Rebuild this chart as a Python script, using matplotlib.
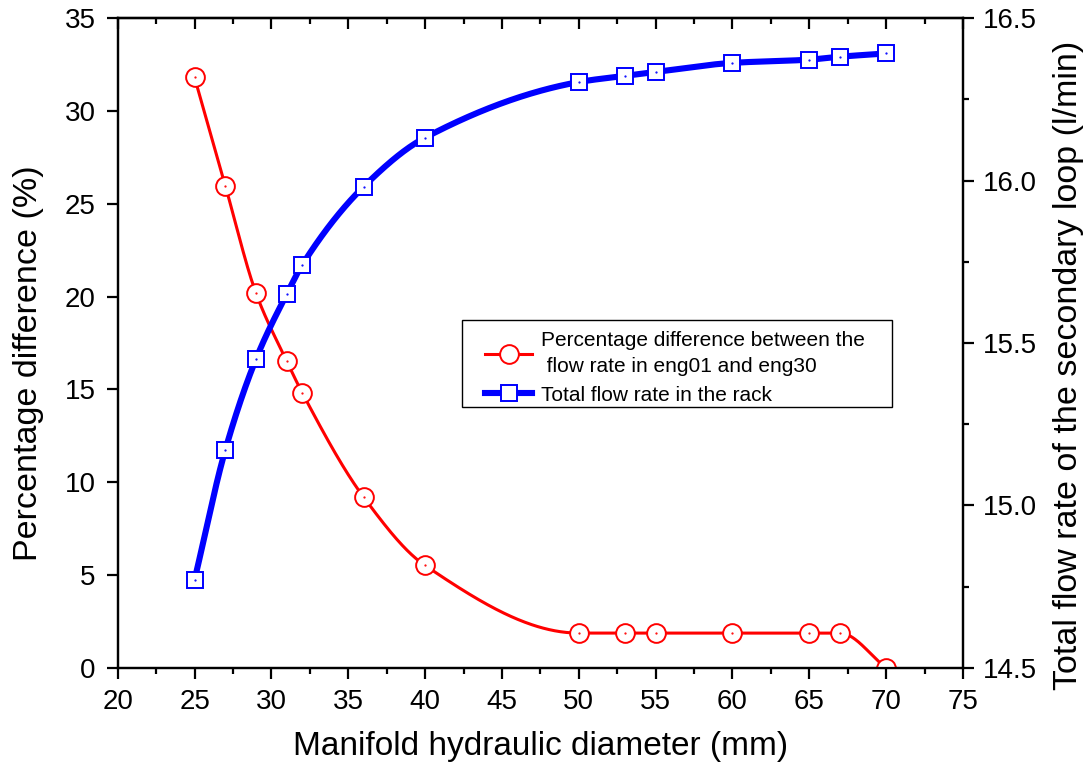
import numpy as np
import matplotlib
matplotlib.use('Agg')
import matplotlib.pyplot as plt
from matplotlib.patches import Rectangle
from matplotlib.ticker import MultipleLocator, FormatStrFormatter

plt.rcParams['font.family'] = ['Liberation Sans', 'DejaVu Sans']

# --- data ---
diameter = [25, 27, 29, 31, 32, 36, 40, 50, 53, 55, 60, 65, 67, 70]
pct_diff = [31.8, 25.97, 20.18, 16.52, 14.83, 9.2, 5.52, 1.88, 1.88, 1.88, 1.88, 1.88, 1.88, 0.0]
total_flow = [14.771, 15.171, 15.451, 15.651, 15.740, 15.981, 16.132, 16.303,
              16.322, 16.334, 16.362, 16.372, 16.381, 16.391]


def pchip(x, y, xs):
    # monotone cubic (Fritsch-Carlson) for the smooth connecting lines
    x = np.asarray(x, float)
    y = np.asarray(y, float)
    h = np.diff(x)
    d = np.diff(y) / h
    m = np.zeros_like(y)
    for k in range(1, len(x) - 1):
        if d[k - 1] * d[k] > 0:
            w1 = 2 * h[k] + h[k - 1]
            w2 = h[k] + 2 * h[k - 1]
            m[k] = (w1 + w2) / (w1 / d[k - 1] + w2 / d[k])
    m[0] = d[0]
    m[-1] = d[-1]
    idx = np.clip(np.searchsorted(x, xs) - 1, 0, len(x) - 2)
    t = (xs - x[idx]) / h[idx]
    h00 = 2 * t**3 - 3 * t**2 + 1
    h10 = t**3 - 2 * t**2 + t
    h01 = -2 * t**3 + 3 * t**2
    h11 = t**3 - t**2
    return h00 * y[idx] + h10 * h[idx] * m[idx] + h01 * y[idx + 1] + h11 * h[idx] * m[idx + 1]


xs = np.linspace(diameter[0], diameter[-1], 600)

fig = plt.figure(figsize=(10.9, 7.8), dpi=100)
ax = fig.add_axes([0.108, 0.1436, 0.7755, 0.8333])
ax2 = ax.twinx()

# red series on left axis
ax.plot(xs, pchip(diameter, pct_diff, xs), color='red', lw=2.2, zorder=2)
ax.plot(diameter, pct_diff, ls='none', marker='o', ms=13.5, mfc='white',
        mec='red', mew=1.4, zorder=3)
ax.plot(diameter, pct_diff, ls='none', marker='.', ms=1.2, color='red', zorder=4)

# blue series on right axis
ax2.plot(xs, pchip(diameter, total_flow, xs), color='blue', lw=4.4, zorder=2)
ax2.plot(diameter, total_flow, ls='none', marker='s', ms=12, mfc='white',
         mec='blue', mew=1.4, zorder=3)
ax2.plot(diameter, total_flow, ls='none', marker='.', ms=1.2, color='blue', zorder=4)

ax.set_xlim(20, 75)
ax.set_ylim(0, 35)
ax2.set_ylim(14.5, 16.5)

ax.xaxis.set_major_locator(MultipleLocator(5))
ax.xaxis.set_minor_locator(MultipleLocator(2.5))
ax.yaxis.set_major_locator(MultipleLocator(5))
ax2.yaxis.set_major_locator(MultipleLocator(0.5))
ax2.yaxis.set_minor_locator(MultipleLocator(0.25))
ax2.yaxis.set_major_formatter(FormatStrFormatter('%.1f'))

for a in (ax, ax2):
    for s in a.spines.values():
        s.set_linewidth(1.6)

ax.tick_params(axis='x', which='major', direction='out', length=8, width=1.6,
               labelsize=20, pad=7)
ax.tick_params(axis='x', which='minor', direction='out', length=4.5, width=1.6)
ax.tick_params(axis='y', which='major', direction='out', length=8, width=1.6,
               labelsize=20, pad=8)
ax2.tick_params(axis='y', which='major', direction='out', length=8, width=1.6,
                labelsize=20, pad=6)
ax2.tick_params(axis='y', which='minor', direction='out', length=4.5, width=1.6)

# top ticks point inward
sec = ax.secondary_xaxis('top')
sec.xaxis.set_major_locator(MultipleLocator(5))
sec.xaxis.set_minor_locator(MultipleLocator(2.5))
sec.tick_params(which='major', direction='in', length=8, width=1.6, labeltop=False)
sec.tick_params(which='minor', direction='in', length=4.5, width=1.6)
sec.spines['top'].set_linewidth(1.6)

ax.set_xlabel('Manifold hydraulic diameter (mm)', fontsize=24, labelpad=12)
ax.set_ylabel('Percentage difference (%)', fontsize=24.5)
ax2.set_ylabel('Total flow rate of the secondary loop (l/min)', fontsize=24.5)
ax.yaxis.set_label_coords(-0.0876, 0.469)
ax2.yaxis.set_label_coords(1.1065, 0.466)

# legend: entries without frame, box drawn separately for wider side margins
h1 = ax.plot([], [], color='red', lw=2.2, marker='o', ms=13.5, mfc='white',
             mec='red', mew=1.4)[0]
h2 = ax.plot([], [], color='blue', lw=4.4, marker='s', ms=12, mfc='white',
             mec='blue', mew=1.4)[0]
leg = ax2.legend([h1, h2],
                 ['Percentage difference between the\n flow rate in eng01 and eng30',
                  'Total flow rate in the rack'],
                 loc='upper left', bbox_to_anchor=(0.434, 0.519), borderaxespad=0,
                 fontsize=15, frameon=False, handlelength=2.3, handletextpad=0.4,
                 labelspacing=0.45, borderpad=0)
for t in leg.get_texts():
    t.set_linespacing(1.5)
leg.set_zorder(10)

box = Rectangle((462 / 1090, 1 - 407 / 780), 430 / 1090, 87 / 780,
                transform=fig.transFigure, facecolor='white', edgecolor='black',
                linewidth=1.0, zorder=9)
ax2.add_artist(box)
box.set_clip_on(False)

fig.savefig('out.png', dpi=100)
